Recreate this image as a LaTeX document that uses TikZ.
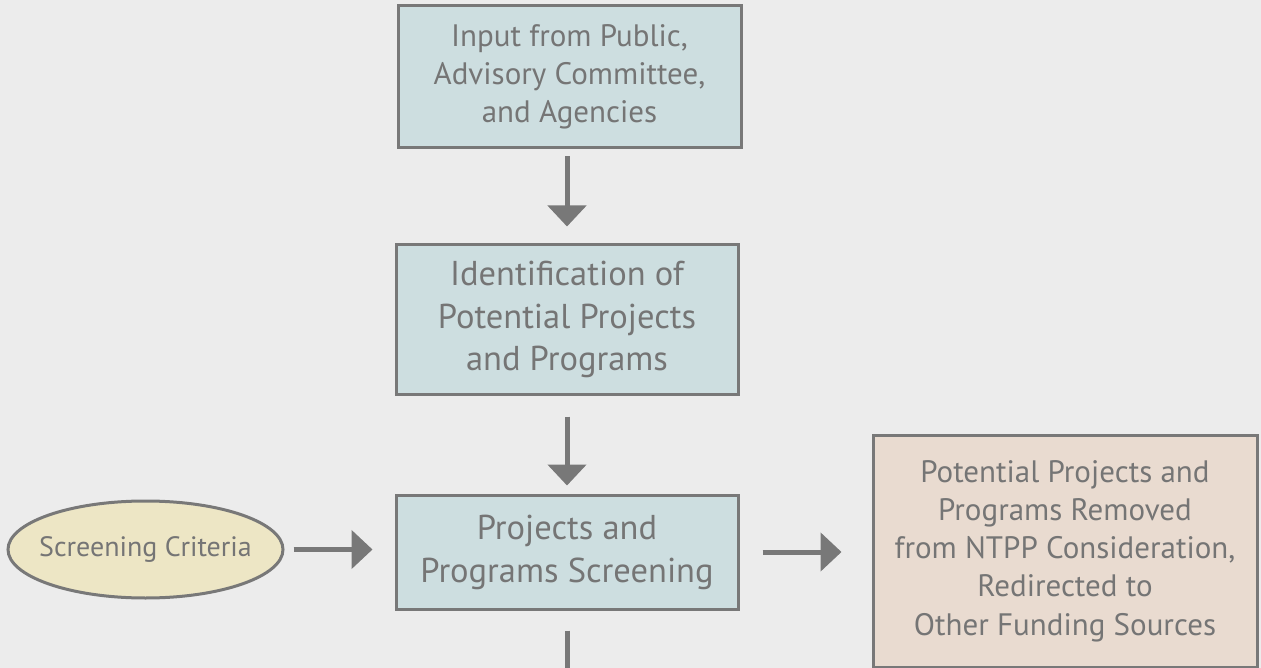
\documentclass[tikz,border=0pt]{standalone}
\usepackage{fontspec}
\setmainfont{PT Sans}
\usetikzlibrary{arrows.meta,shapes.geometric}
\definecolor{bg}{RGB}{236,236,236}
\definecolor{bluefill}{RGB}{205,222,224}
\definecolor{creamfill}{RGB}{237,230,197}
\definecolor{pinkfill}{RGB}{233,219,208}
\definecolor{edge}{RGB}{120,120,120}
\definecolor{txt}{RGB}{117,117,117}
\tikzset{
  box/.style={draw=edge, line width=3pt, rectangle, align=center, text=txt, inner sep=0pt},
  flowarrow/.style={draw=edge, line width=5pt, -{Triangle[length=21pt 0,width=38pt 0]}},
  plainline/.style={draw=edge, line width=5pt},
}
\begin{document}
\begin{tikzpicture}[x=1pt,y=-1pt]
\fill[bg] (0,0) rectangle (1261,668);
\useasboundingbox (0,0) rectangle (1261,668);
\node[box, fill=bluefill, minimum width=343pt, minimum height=142pt, font=\fontsize{31}{38}\selectfont] (input) at (569.5,77) {Input from Public,\\Advisory Committee,\\and Agencies};
\node[box, fill=bluefill, minimum width=342pt, minimum height=149pt, font=\fontsize{34.5}{42.5}\selectfont] (ident) at (567,319.5) {Identification of\\Potential Projects\\and Programs};
\node[box, fill=bluefill, minimum width=342pt, minimum height=114pt, font=\fontsize{34.5}{43}\selectfont] (screen) at (567,552) {Projects and\\Programs Screening};
\node[draw=edge, line width=3pt, ellipse, fill=creamfill, minimum width=275pt, minimum height=97pt, inner sep=0pt] (crit) at (145.5,549.5) {};
\node[text=txt, inner sep=0pt, font=\fontsize{28}{32}\selectfont] (crittext) at (crit.center) {Screening Criteria};
\node[box, fill=pinkfill, minimum width=384pt, minimum height=232pt, font=\fontsize{31}{38.3}\selectfont] (removed) at (1065,551) {Potential Projects and\\Programs Removed\\from NTPP Consideration,\\Redirected to\\Other Funding Sources};
\coordinate (below) at (567,690);
\draw[flowarrow] ([yshift=-7pt]ident.north |- input.south) -- ([yshift=17pt]ident.north);
\draw[flowarrow] ([yshift=-21pt]ident.south) -- ([yshift=8pt]screen.north);
\draw[flowarrow] ([xshift=9pt]crit.east) -- ([xshift=-22pt]crit.east -| screen.west);
\draw[flowarrow] ([xshift=23pt]screen.east) -- ([xshift=-30pt]screen.east -| removed.west);
\draw[plainline] ([yshift=-20pt]screen.south) -- (below);
\end{tikzpicture}
\end{document}
